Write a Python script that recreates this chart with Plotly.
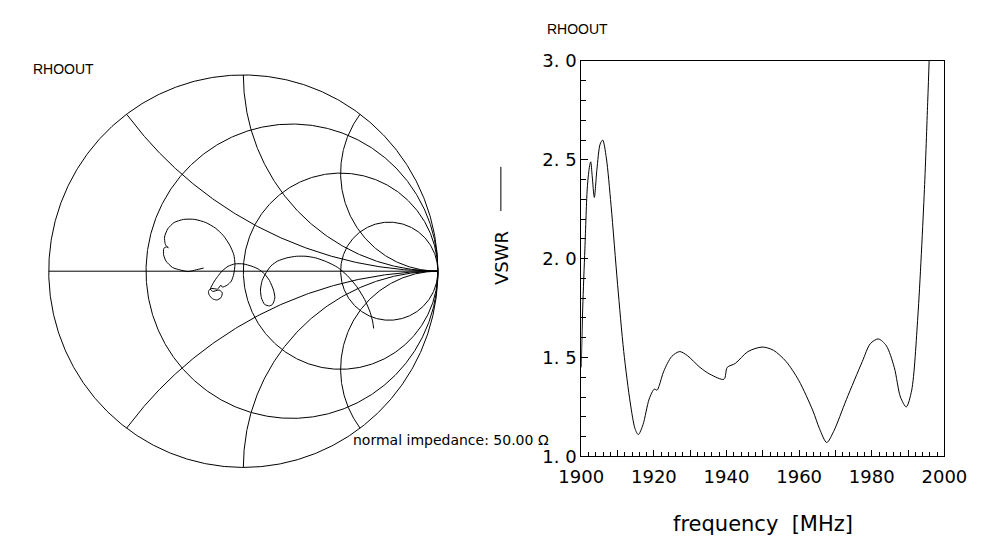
import numpy as np
import plotly.graph_objects as go

W, H = 996, 551

# ---------------- data ----------------
# Smith chart grid values
r_circles = [0.0, 1/3, 1.0, 3.0]
x_arcs = [0.5, 1.0, 2.0, -0.5, -1.0, -2.0]

# reflection coefficient RHOOUT (real, imag), 1900 -> 2000 MHz
rho_re = [-0.204, -0.242, -0.283, -0.324, -0.364, -0.397, -0.410, -0.408, -0.395, -0.385,
          -0.397, -0.402, -0.405, -0.389, -0.356, -0.307, -0.250, -0.193, -0.144, -0.103,
          -0.070, -0.049, -0.043, -0.049, -0.062, -0.083, -0.108, -0.115, -0.132, -0.162,
          -0.179, -0.176, -0.159, -0.137, -0.115, -0.108, -0.125, -0.157, -0.169, -0.152,
          -0.132, -0.108, -0.078, -0.044, 0.000, 0.044, 0.077, 0.109, 0.134, 0.155,
          0.162, 0.150, 0.134, 0.109, 0.093, 0.088, 0.097, 0.118, 0.142, 0.175,
          0.224, 0.273, 0.322, 0.371, 0.428, 0.485, 0.534, 0.583, 0.624, 0.652,
          0.665, 0.670]
rho_im = [0.016, 0.007, -0.002, 0.006, 0.019, 0.051, 0.084, 0.117, 0.124, 0.119,
          0.130, 0.141, 0.174, 0.215, 0.248, 0.264, 0.264, 0.248, 0.220, 0.182,
          0.133, 0.084, 0.035, -0.014, -0.051, -0.071, -0.081, -0.071, -0.091, -0.088,
          -0.100, -0.120, -0.140, -0.147, -0.135, -0.110, -0.096, -0.103, -0.091, -0.056,
          -0.027, 0.002, 0.025, 0.037, 0.037, 0.025, 0.011, -0.014, -0.047, -0.096,
          -0.136, -0.169, -0.177, -0.169, -0.136, -0.096, -0.047, -0.006, 0.027, 0.051,
          0.068, 0.076, 0.076, 0.068, 0.048, 0.019, -0.022, -0.079, -0.145, -0.210,
          -0.259, -0.292]

# VSWR vs frequency
freq = [1900.0, 1900.4, 1901.0, 1901.7, 1902.3, 1902.6, 1903.0, 1903.6, 1904.3, 1905.2,
        1905.9, 1906.9, 1908.2, 1910.0, 1911.7, 1913.5, 1914.8, 1915.7, 1917.0, 1918.7,
        1920.1, 1920.9, 1921.5, 1922.7, 1924.9, 1927.1, 1929.2, 1932.7, 1935.4, 1939.3,
        1940.2, 1942.4, 1945.9, 1949.8, 1952.9, 1956.4, 1959.9, 1963.8, 1965.6, 1967.6,
        1969.5, 1973.0, 1977.4, 1979.6, 1981.8, 1984.0, 1986.2, 1987.9, 1989.5, 1991.0,
        1992.7, 1994.5, 1995.4, 1995.8, 1996.5]
vswr = [1.45, 1.75, 2.05, 2.37, 2.47, 2.49, 2.42, 2.31, 2.45, 2.58,
        2.60, 2.51, 2.27, 1.87, 1.53, 1.27, 1.14, 1.11, 1.16, 1.29,
        1.34, 1.335, 1.36, 1.43, 1.505, 1.53, 1.51, 1.45, 1.416, 1.39,
        1.45, 1.47, 1.53, 1.553, 1.537, 1.48, 1.384, 1.23, 1.14, 1.07,
        1.126, 1.287, 1.48, 1.57, 1.594, 1.56, 1.45, 1.30, 1.25, 1.335,
        1.71, 2.35, 2.79, 3.0, 3.4]

x_ticks = [1900, 1910, 1920, 1930, 1940, 1950, 1960, 1970, 1980, 1990, 2000]
x_labels = ["1900", "", "1920", "", "1940", "", "1960", "", "1980", "", "2000"]
y_ticks = [1.0, 1.5, 2.0, 2.5, 3.0]
y_labels = ["1. 0", "1. 5", "2. 0", "2. 5", "3. 0"]

# ---------------- figure ----------------
def px_x(p):
    return p / W

def px_y(p):
    return 1 - p / H

fig = go.Figure()
line = dict(color="black", width=1)

# Smith grid: resistance circles
t = np.linspace(0, 2 * np.pi, 721)
for r in r_circles:
    c, rad = r / (1 + r), 1 / (1 + r)
    fig.add_trace(go.Scatter(x=c + rad * np.cos(t), y=rad * np.sin(t), mode="lines",
                             line=line, hoverinfo="skip", showlegend=False, xaxis="x", yaxis="y"))
# reactance arcs
rr = np.concatenate([[0], np.geomspace(1e-3, 1e5, 800)])
for xv in x_arcs:
    z = rr + 1j * xv
    g = (z - 1) / (z + 1)
    fig.add_trace(go.Scatter(x=g.real, y=g.imag, mode="lines", line=line,
                             hoverinfo="skip", showlegend=False, xaxis="x", yaxis="y"))
# real axis
fig.add_trace(go.Scatter(x=[-1, 1], y=[0, 0], mode="lines", line=line,
                         hoverinfo="skip", showlegend=False, xaxis="x", yaxis="y"))
# RHOOUT curve
fig.add_trace(go.Scatter(x=rho_re, y=rho_im, mode="lines",
                         line=dict(color="black", width=1, shape="spline", smoothing=0.6),
                         showlegend=False, xaxis="x", yaxis="y"))

# VSWR curve
fig.add_trace(go.Scatter(x=freq, y=vswr, mode="lines",
                         line=dict(color="black", width=1, shape="spline", smoothing=0.8),
                         showlegend=False, xaxis="x2", yaxis="y2"))

# Smith chart placement
cx, cy, R = 231, 270.5, 204
k = 1.02
fig.update_layout(
    xaxis=dict(domain=[px_x(cx - R * k), px_x(cx + R * k)], range=[-k, k], visible=False, fixedrange=True),
    yaxis=dict(domain=[px_y(cy + R * k), px_y(cy - R * k)], range=[-k, k], visible=False, fixedrange=True),
)

tickfont = dict(family="DejaVu Sans", size=18, color="black")
fig.update_layout(
    xaxis2=dict(domain=[px_x(585.3), px_x(966)], range=[1900, 2000], anchor="y2",
                tickmode="array", tickvals=x_ticks, ticktext=x_labels,
                ticks="inside", ticklen=6, tickcolor="black", tickwidth=1,
                minor=dict(dtick=2, ticks="inside", ticklen=4, tickcolor="black", tickwidth=1),
                showline=True, linecolor="black", linewidth=1, mirror=True,
                showgrid=False, zeroline=False, tickfont=tickfont, ticklabelstandoff=4),
    yaxis2=dict(domain=[px_y(463), px_y(52)], range=[1.0, 3.0], anchor="x2",
                tickmode="array", tickvals=y_ticks, ticktext=y_labels,
                ticks="inside", ticklen=7, tickcolor="black", tickwidth=1,
                minor=dict(dtick=0.1, ticks="inside", ticklen=5, tickcolor="black", tickwidth=1),
                showline=True, linecolor="black", linewidth=1, mirror=True,
                showgrid=False, zeroline=False, tickfont=tickfont),
)

annotations = [
    dict(text="RHOOUT", x=px_x(8), y=px_y(60), xanchor="left", yanchor="middle",
         font=dict(family="Liberation Sans", size=14, color="black")),
    dict(text="RHOOUT", x=px_x(547), y=px_y(19), xanchor="left", yanchor="middle",
         font=dict(family="Liberation Sans", size=14, color="black")),
    dict(text="normal impedance: 50.00 Ω", x=px_x(344), y=px_y(446), xanchor="left", yanchor="middle",
         font=dict(family="DejaVu Sans", size=14, color="black")),
    dict(text="VSWR", x=px_x(501), y=px_y(257), xanchor="center", yanchor="middle", textangle=-90,
         font=dict(family="DejaVu Sans", size=18, color="black")),
    dict(text="frequency  [MHz]", x=px_x(776), y=px_y(533), xanchor="center", yanchor="middle",
         font=dict(family="DejaVu Sans", size=21, color="black")),
]
for a in annotations:
    a.update(xref="paper", yref="paper", showarrow=False)

fig.update_layout(
    width=W, height=H, margin=dict(l=0, r=0, t=0, b=0),
    paper_bgcolor="white", plot_bgcolor="white",
    annotations=annotations,
    shapes=[dict(type="line", xref="paper", yref="paper",
                 x0=px_x(501), x1=px_x(501), y0=px_y(162), y1=px_y(208),
                 line=dict(color="black", width=1))],
)

fig.write_html("out.html")
